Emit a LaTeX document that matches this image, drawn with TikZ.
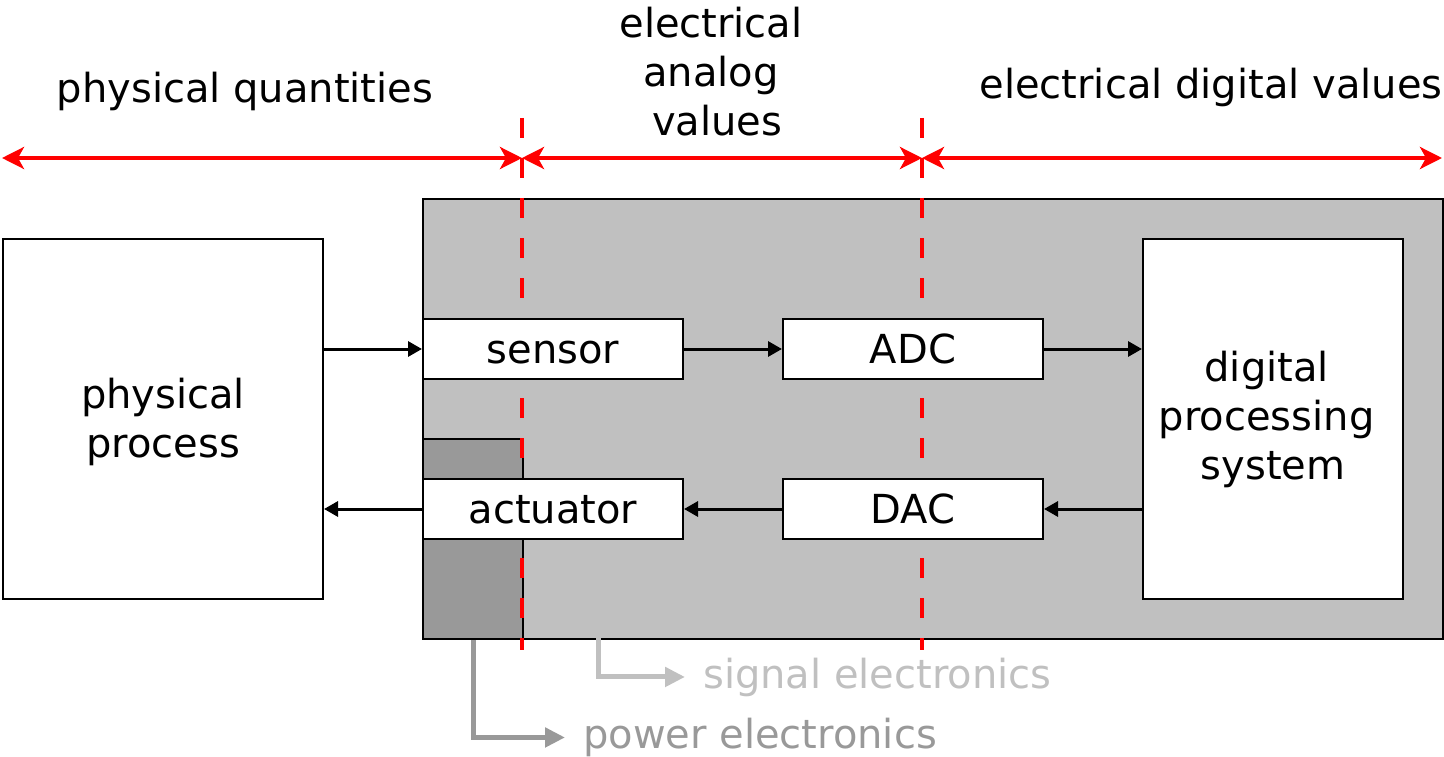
\documentclass[tikz,border=0pt]{standalone}
\usepackage{fontspec}
\setmainfont{DejaVu Sans}
\usetikzlibrary{arrows.meta}
\definecolor{sig}{HTML}{C0C0C0}
\definecolor{pow}{HTML}{999999}
\newcommand{\spc}{\hbox to 12.7pt{}}
\begin{document}
\begin{tikzpicture}[x=1pt,y=-1pt,
  every node/.style={font=\fontsize{40pt}{49pt}\selectfont, inner sep=0pt},
  wbox/.style={draw=black, line width=2pt, fill=white, anchor=north west},
  onebox/.style={wbox, minimum width=260pt, minimum height=60pt, text height=29pt, text depth=0pt},
  bigbox/.style={wbox, minimum width=320pt, minimum height=360pt, align=center},
  redarrow/.style={draw=red, line width=4pt, {Stealth[length=22pt,width=22pt,inset=6pt]}-{Stealth[length=22pt,width=22pt,inset=6pt]}},
  reddash/.style={draw=red, line width=4pt, dash pattern=on 20pt off 20pt},
  blkarrow/.style={draw=black, line width=3pt, -{Triangle[length=14pt,width=15pt]}},
  legarrow/.style={line width=5pt, -{Triangle[length=20pt,width=19pt]}},
  label/.style={anchor=base, align=center}]
\useasboundingbox (0,0) rectangle (1444,757);
% containers
\node[draw=black, line width=2pt, fill=sig, anchor=north west, minimum width=1020pt, minimum height=440pt] (sigbox) at (422,198) {};
\node[draw=black, line width=2pt, fill=pow, anchor=north west, minimum width=100pt, minimum height=200pt] (powbox) at (422,438) {};
% dashed borders
\coordinate (d1t) at (522,118); \coordinate (d1b) at (522,650);
\coordinate (d2t) at (922,118); \coordinate (d2b) at (922,650);
\draw[reddash] (d1t) -- (d1b);
\draw[reddash] (d2t) -- (d2b);
% red ranges
\coordinate (rL) at (2,158); \coordinate (rM1) at (522,158);
\coordinate (rM2) at (922,158); \coordinate (rR) at (1442,158);
\draw[redarrow] (rL) -- (rM1);
\draw[redarrow] (rM1) -- (rM2);
\draw[redarrow] (rM2) -- (rR);
% range labels
\node[label] (lq) at (245,103) {physical quantities};
\node[label, anchor=north] (la) at (711,7) {electrical\\analog\\\ values};
\node[label] (ld) at (1211,99) {electrical digital values};
% boxes
\node[bigbox] (pp) at (2,238) {\rule{0pt}{36.4pt}physical\\process};
\node[bigbox, minimum width=260pt] (dps) at (1142,238) {digital\spc\\processing\spc\\system};
\node[onebox] (sensor) at (422,318) {sensor};
\node[onebox] (actuator) at (422,478) {actuator};
\node[onebox] (adc) at (782,318) {ADC};
\node[onebox] (dac) at (782,478) {DAC};
% signal flow
\draw[blkarrow] (pp.east |- sensor.west) -- (sensor.west);
\draw[blkarrow] (sensor.east) -- (adc.west);
\draw[blkarrow] (adc.east) -- (adc.east -| dps.west);
\draw[blkarrow] (dps.west |- dac.east) -- (dac.east);
\draw[blkarrow] (dac.west) -- (actuator.east);
\draw[blkarrow] (actuator.west) -- (actuator.west -| pp.east);
% legend
\node[anchor=base west, text=sig, inner xsep=18pt] (sigtxt) at (685,688) {signal electronics};
\node[anchor=base west, text=pow, inner xsep=18pt] (powtxt) at (565,748.5) {power electronics};
\coordinate (sigstart) at (598,638);
\draw[legarrow, draw=sig] (sigstart) |- (sigtxt.west);
\draw[legarrow, draw=pow] (powbox.south) |- (powtxt.west);
\end{tikzpicture}
\end{document}
